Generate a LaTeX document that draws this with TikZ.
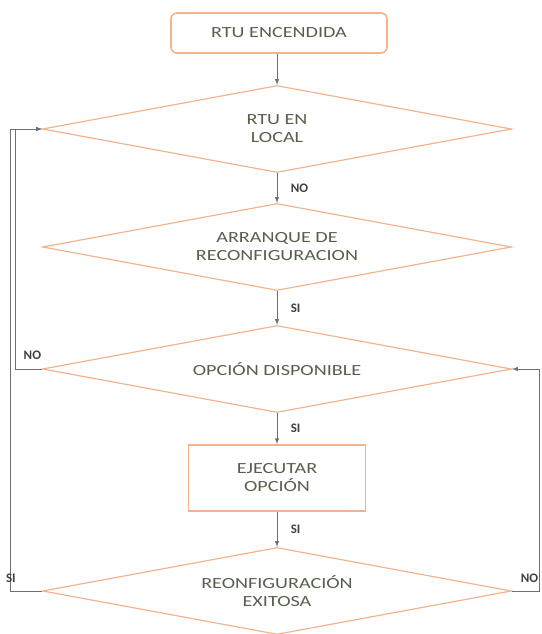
\documentclass[tikz,border=0pt]{standalone}
\usepackage{fontspec}
\setmainfont{Carlito}
\newfontfamily\ancha[FakeStretch=1.3]{Carlito}
\usepackage{xcolor}
\usetikzlibrary{shapes.geometric}

\definecolor{borde}{HTML}{F2B48C}
\definecolor{texto}{HTML}{56604B}
\definecolor{linea}{HTML}{707070}

\tikzset{
  decision/.style={diamond, draw=borde, line width=1.2pt, text=texto, inner sep=0pt,
    shape aspect=5.4, minimum width=469pt, minimum height=87pt, align=center,
    font=\ancha\fontsize{15.5}{18}\selectfont},
  caja/.style={rectangle, draw=borde, line width=1.6pt, text=texto, align=center,
    font=\ancha\fontsize{15.5}{18}\selectfont},
  flecha/.style={draw=linea, line width=1pt, ->, >=latex},
  etiq/.style={text=black!75, font=\bfseries\fontsize{13}{15}\selectfont}
}

\begin{document}
\begin{tikzpicture}[x=1pt, y=1pt]
\useasboundingbox (0,0) rectangle (541,-634);

% Inicio
\node[caja, rounded corners=6pt, minimum width=216pt, minimum height=40pt] (inicio) at (279,-33) {RTU ENCENDIDA};

% Decisiones
\node[decision] (local) at (277,-129) {RTU EN\\LOCAL};
\node[decision] (arranque) at (277,-247) {ARRANQUE DE\\RECONFIGURACION};
\node[decision] (opcion) at (277,-369) {OPCIÓN DISPONIBLE};
\node[caja, minimum width=177pt, minimum height=66pt] (ejecutar) at (277,-478) {EJECUTAR\\OPCIÓN};
\node[decision] (exito) at (277,-591) {REONFIGURACIÓN\\EXITOSA};

% Flujo principal
\draw[flecha] (inicio.south -| local) -- (local);
\draw[flecha] (local) -- node[etiq, right=10pt] {NO} (arranque);
\draw[flecha] (arranque) -- node[etiq, right=10pt] {SI} (opcion);
\draw[flecha] (opcion) -- node[etiq, right=10pt] {SI} (ejecutar);
\draw[flecha] (ejecutar) -- node[etiq, right=10pt] {SI} (exito);

% Retornos
\draw[flecha] (opcion.west) -- ++(-26,0) node[etiq, anchor=south west, xshift=4pt, yshift=6pt] {NO} |- (local.west);
\draw[flecha] (exito.west) -- ++(-31,0) node[etiq, anchor=south, yshift=5pt] {SI} |- (local.west);
\draw[flecha] (exito.east) -- ++(27,0) node[etiq, anchor=south east, xshift=3pt, yshift=5pt] {NO} |- (opcion.east);

\end{tikzpicture}
\end{document}
